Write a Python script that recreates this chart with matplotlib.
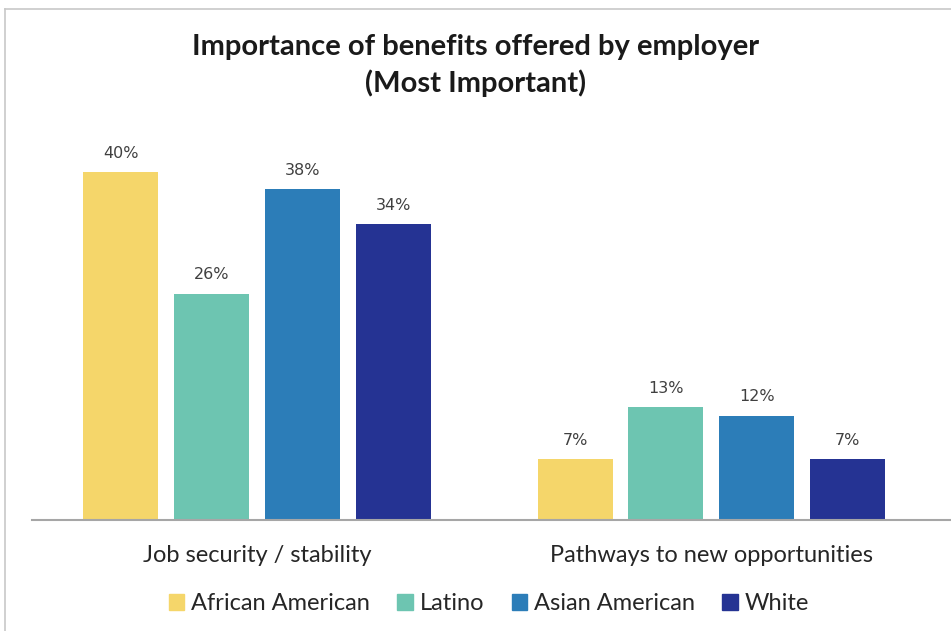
import numpy as np
import matplotlib.pyplot as plt
from matplotlib.patches import Patch

categories = ['Job security / stability', 'Pathways to new opportunities']
groups = ['African American', 'Latino', 'Asian American', 'White']
african_american = [40, 7]
latino = [26, 13]
asian_american = [38, 12]
white = [34, 7]
colors = ['#F5D66A', '#6DC5B1', '#2C7DB8', '#253393']

series = [african_american, latino, asian_american, white]

fig = plt.figure(figsize=(9.51, 6.31), dpi=100)
ax = fig.add_axes([32/951, (631-520)/631, (950-32)/951, (520-130)/631])

x = np.arange(len(categories))
step = 0.2
width = 0.165
for i, (vals, c) in enumerate(zip(series, colors)):
    pos = x + (i - 1.5) * step
    bars = ax.bar(pos, vals, width, color=c, label=groups[i])
    for b, v in zip(bars, vals):
        ax.text(b.get_x() + b.get_width()/2, v + 1.3, f'{v}%', ha='center', va='bottom',
                fontsize=11.5, color='#404040', family='DejaVu Sans')

ax.set_xlim(-0.495, 1.525)
ax.set_ylim(0, 390/8.7)
for s in ['top', 'right', 'left']:
    ax.spines[s].set_visible(False)
ax.spines['bottom'].set_color('#A6A6A6')
ax.spines['bottom'].set_linewidth(1.5)
ax.set_yticks([])
ax.set_xticks(x)
ax.set_xticklabels(categories, fontsize=17, family='Lato', color='#262626')
ax.tick_params(axis='x', length=0, pad=18)

fig.text(0.5, 1 - 47/631, 'Importance of benefits offered by employer', ha='center', va='center',
         fontsize=21, fontweight='bold', family='Lato', color='#1a1a1a')
fig.text(0.5, 1 - 83/631, '(Most Important)', ha='center', va='center',
         fontsize=21, fontweight='bold', family='Lato', color='#1a1a1a')

handles = [Patch(color=c) for c in colors]
fig.legend(handles, groups, loc='center', bbox_to_anchor=(489/951, 1 - 604/631), ncol=4,
           frameon=False, prop={'family': 'Lato', 'size': 17}, handlelength=0.65,
           handleheight=0.65, handletextpad=0.3, columnspacing=1.15, labelcolor='#262626')

# light border round the chart
fig.add_artist(plt.Line2D([5/951, 5/951], [0, 1 - 9/631], color='#C8C8C8', lw=1.2))
fig.add_artist(plt.Line2D([5/951, 1], [1 - 9/631, 1 - 9/631], color='#C8C8C8', lw=1.2))

fig.savefig('out.png', dpi=100)
